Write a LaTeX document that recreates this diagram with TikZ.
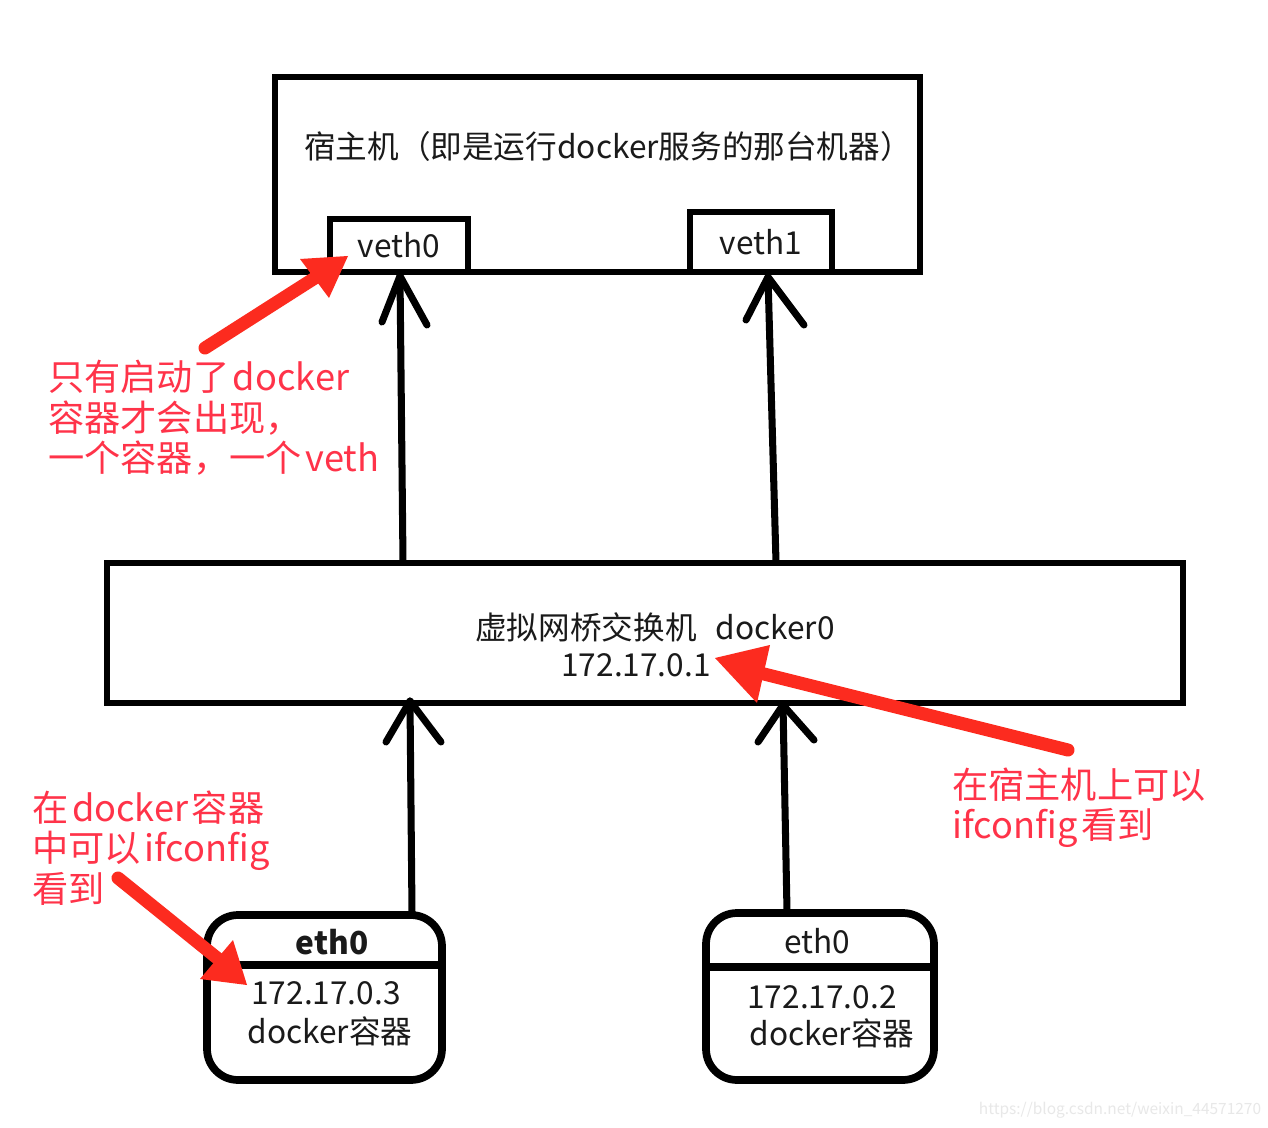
\documentclass[tikz,border=0pt]{standalone}
\usepackage{fontspec}
\setmainfont{Noto Sans CJK SC}
\definecolor{annot}{HTML}{FF3349}
\definecolor{arrred}{HTML}{FC2B1F}
\definecolor{ink}{HTML}{1A1A1A}
\definecolor{wm}{HTML}{E8E8E8}
\newcommand{\gapsp}{\hspace{0.1em}}
\tikzset{
  boxline/.style={draw=black, line width=3.4pt},
  roundbox/.style={draw=black, line width=4.4pt, rounded corners=0.62cm},
  blackarrow/.style={draw=black, line width=4pt, line cap=round, line join=round},
  redshaft/.style={draw=arrred, line width=7.4pt, line cap=round},
  redhead/.style={fill=arrred},
  blacktext/.style={text=ink, font=\fontsize{18}{20}\selectfont, inner sep=0pt},
  redtext/.style={text=annot, font=\fontsize{20.6}{23}\selectfont, align=left, anchor=west, inner sep=0pt},
}
\begin{document}
\begin{tikzpicture}[x=0.02cm,y=-0.02cm]
\useasboundingbox (0,0) rectangle (1268,1128);
\fill[white] (0,0) rectangle (1268,1128);

% host machine
\node[boxline, minimum width=12.9cm, minimum height=3.9cm, inner sep=0pt] (host) at (597.5,174.5) {};
\node[blacktext] (hosttext) at (608,146) {宿主机（即是运行docker服务的那台机器）};

% veth0 / veth1
\node[minimum width=2.76cm, minimum height=1.06cm, inner sep=0pt, blacktext] (veth0) at (399,245.5) {veth0};
\draw[boxline] (veth0.south west) -- (veth0.north west) -- (veth0.north east) -- (veth0.south east);
\node[minimum width=2.84cm, minimum height=1.2cm, inner sep=0pt, blacktext] (veth1) at (761,242) {veth1};
\draw[boxline] (veth1.south west) -- (veth1.north west) -- (veth1.north east) -- (veth1.south east);

% bridge
\node[boxline, minimum width=21.52cm, minimum height=2.8cm, inner sep=0pt] (bridge) at (645,633) {};
\node[blacktext] (brtexta) at (655,627) {虚拟网桥交换机\hspace{0.6em}docker0};
\node[blacktext] (brtextb) at (636,665) {172.17.0.1};

% containers
\node[roundbox, minimum width=4.7cm, minimum height=3.3cm, inner sep=0pt] (cont1) at (324.5,997.5) {};
\draw[black, line width=4.4pt] (207,965) -- (442,965);
\node[blacktext, font=\fontsize{18}{20}\selectfont\bfseries] (c1eth) at (332,942) {eth0};
\node[blacktext] (c1ip) at (326,993) {172.17.0.3};
\node[blacktext] (c1name) at (330,1031) {docker容器};

\node[roundbox, minimum width=4.56cm, minimum height=3.34cm, inner sep=0pt] (cont2) at (820,996.5) {};
\draw[black, line width=4.4pt] (706,967) -- (934,967);
\node[blacktext] (c2eth) at (817,941) {eth0};
\node[blacktext] (c2ip) at (822,997) {172.17.0.2};
\node[blacktext] (c2name) at (832,1033) {docker容器};

% black arrows
\coordinate (a1s) at (403,562); \coordinate (a1t) at (400,276);
\coordinate (a1l) at (382,322); \coordinate (a1r) at (427,325);
\draw[blackarrow] (a1s) -- (a1t);
\draw[blackarrow] (a1l) -- (a1t) -- (a1r);

\coordinate (a2s) at (776,562); \coordinate (a2t) at (768,277);
\coordinate (a2l) at (746,320); \coordinate (a2r) at (804,325);
\draw[blackarrow] (a2s) -- (a2t);
\draw[blackarrow] (a2l) -- (a2t) -- (a2r);

\coordinate (a3s) at (412,913); \coordinate (a3t) at (410,701);
\coordinate (a3l) at (386,742); \coordinate (a3r) at (441,742);
\draw[blackarrow] (a3s) -- (a3t);
\draw[blackarrow] (a3l) -- (a3t) -- (a3r);

\coordinate (a4s) at (787,911); \coordinate (a4t) at (783,705);
\coordinate (a4l) at (758,742); \coordinate (a4r) at (814,740);
\draw[blackarrow] (a4s) -- (a4t);
\draw[blackarrow] (a4l) -- (a4t) -- (a4r);

% red annotations
\node[redtext] (note1) at (48,418) {只有启动了\gapsp docker\\容器才会出现，\\一个容器，一个\gapsp veth};
\node[redtext] (note2) at (32,848) {在\gapsp docker\gapsp 容器\\中可以\gapsp ifconfig\\看到};
\node[redtext] (note3) at (952,808) {在宿主机上可以\\ifconfig\gapsp 看到};

% red arrows
\coordinate (r1s) at (205,348); \coordinate (r1b) at (318,276);
\coordinate (r1t) at (348,256); \coordinate (r1l) at (300,259); \coordinate (r1r) at (329,298);
\draw[redshaft] (r1s) -- (r1b);
\fill[redhead] (r1t) -- (r1l) -- (r1r) -- cycle;

\coordinate (r2s) at (118,878); \coordinate (r2b) at (222,962);
\coordinate (r2t) at (247,985); \coordinate (r2l) at (200,979); \coordinate (r2r) at (233,940);
\draw[redshaft] (r2s) -- (r2b);
\fill[redhead] (r2t) -- (r2l) -- (r2r) -- cycle;

\coordinate (r3s) at (1068,750); \coordinate (r3b) at (748,670);
\coordinate (r3t) at (715,658); \coordinate (r3l) at (770,645); \coordinate (r3r) at (757,703);
\draw[redshaft] (r3s) -- (r3b);
\fill[redhead] (r3t) -- (r3l) -- (r3r) -- cycle;

% watermark
\node[text=wm, font=\fontsize{8.8}{10}\selectfont, inner sep=0pt] (wmark) at (1120,1110) {https://blog.csdn.net/weixin\_44571270};
\end{tikzpicture}
\end{document}
